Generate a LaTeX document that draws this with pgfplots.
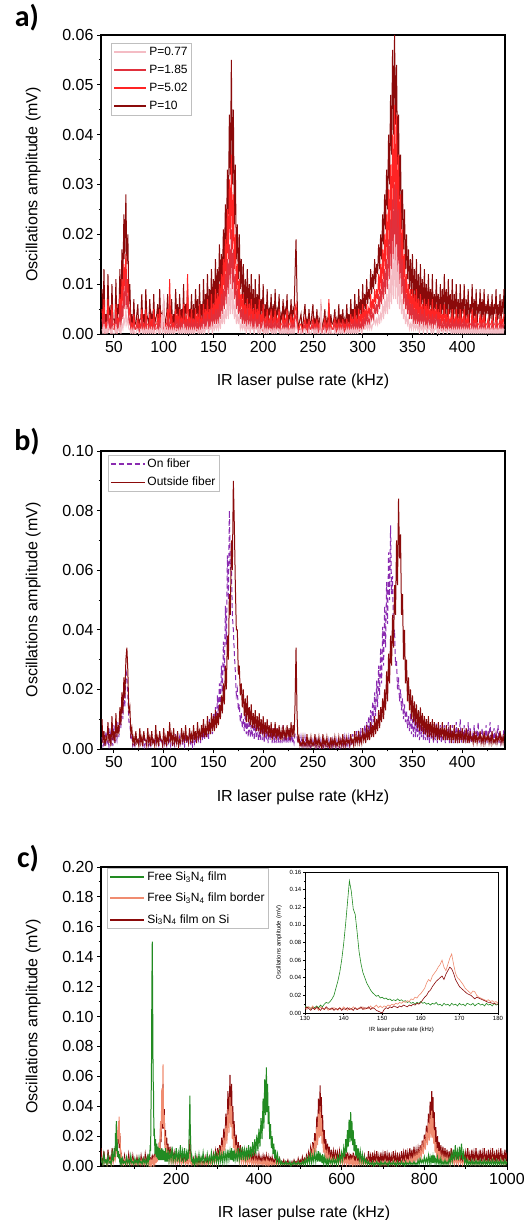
\documentclass[border=0pt]{standalone}
\usepackage{pgfplots}
\usepackage{pgfplotstable}
\pgfplotsset{compat=1.18}
\usepackage{fontspec}
\setmainfont{Liberation Sans}
\newfontfamily\calibri{Carlito}
\definecolor{pinkA}{HTML}{F4BCC4}
\definecolor{redB}{HTML}{E0303C}
\definecolor{redC}{HTML}{FF2424}
\definecolor{darkR}{HTML}{8B0A0A}
\definecolor{purp}{HTML}{8A2BB0}
\definecolor{grn}{HTML}{228B22}
\definecolor{salm}{HTML}{F08C70}

\pgfplotstableread{
x a b c d
38 0.001 0.003 0.005 0.009
39 0.000 0.001 0.002 0.003
40 0.002 0.004 0.007 0.013
41 0.000 0.000 0.001 0.001
42 0.001 0.001 0.002 0.004
43 0.000 0.001 0.001 0.002
44 0.002 0.004 0.007 0.012
45 0.001 0.001 0.002 0.004
46 0.001 0.002 0.003 0.005
47 0.000 0.000 0.001 0.001
48 0.001 0.004 0.006 0.010
49 0.000 0.001 0.002 0.003
50 0.000 0.001 0.002 0.003
51 0.000 0.001 0.001 0.002
52 0.002 0.004 0.006 0.011
53 0.000 0.000 0.001 0.001
54 0.001 0.002 0.003 0.006
55 0.001 0.001 0.002 0.004
56 0.002 0.005 0.008 0.013
57 0.000 0.001 0.001 0.002
58 0.002 0.006 0.011 0.017
59 0.001 0.003 0.006 0.010
60 0.003 0.009 0.014 0.024
61 0.002 0.005 0.009 0.015
62 0.005 0.012 0.016 0.028
63 0.002 0.005 0.008 0.014
64 0.003 0.008 0.011 0.020
65 0.001 0.002 0.004 0.006
66 0.001 0.003 0.005 0.010
67 0.000 0.001 0.001 0.002
68 0.001 0.001 0.002 0.004
69 0.000 0.000 0.001 0.001
70 0.001 0.002 0.004 0.007
71 0.000 0.001 0.001 0.002
72 0.000 0.001 0.001 0.002
73 0.001 0.001 0.002 0.004
74 0.001 0.002 0.003 0.006
75 0.000 0.000 0.001 0.001
76 0.000 0.001 0.002 0.003
77 0.001 0.001 0.001 0.003
78 0.001 0.003 0.005 0.008
79 0.000 0.001 0.001 0.002
80 0.001 0.001 0.002 0.004
81 0.000 0.000 0.001 0.001
82 0.001 0.003 0.005 0.009
83 0.000 0.001 0.002 0.004
84 0.001 0.001 0.002 0.003
85 0.000 0.001 0.001 0.002
86 0.001 0.002 0.004 0.007
87 0.000 0.001 0.001 0.003
88 0.001 0.001 0.003 0.004
89 0.000 0.000 0.001 0.001
90 0.001 0.003 0.005 0.008
91 0.000 0.001 0.001 0.002
92 0.000 0.001 0.002 0.003
93 0.001 0.001 0.002 0.004
94 0.001 0.002 0.004 0.006
95 0.000 0.000 0.001 0.001
96 0.001 0.003 0.005 0.009
97 0.000 0.001 0.002 0.003
98 0.004 0.002 0.002 0.004
99 0.000 0.001 0.001 0.002
100 0.008 0.002 0.004 0.007
101 0.000 0.000 0.001 0.001
102 0.001 0.001 0.002 0.003
103 0.000 0.001 0.002 0.004
104 0.001 0.003 0.005 0.008
105 0.000 0.001 0.001 0.002
106 0.001 0.002 0.011 0.005
107 0.000 0.001 0.002 0.003
108 0.001 0.002 0.004 0.007
109 0.000 0.000 0.001 0.001
110 0.001 0.001 0.002 0.004
111 0.000 0.001 0.001 0.002
112 0.001 0.003 0.005 0.009
113 0.001 0.001 0.002 0.004
114 0.001 0.002 0.004 0.006
115 0.000 0.000 0.001 0.001
116 0.001 0.003 0.005 0.008
117 0.000 0.001 0.002 0.003
118 0.001 0.002 0.003 0.005
119 0.000 0.001 0.001 0.002
120 0.002 0.003 0.006 0.010
121 0.000 0.000 0.001 0.001
122 0.001 0.002 0.003 0.006
123 0.000 0.001 0.002 0.004
124 0.001 0.003 0.012 0.009
125 0.000 0.001 0.001 0.002
126 0.001 0.002 0.003 0.005
127 0.000 0.001 0.002 0.003
128 0.001 0.003 0.005 0.008
129 0.000 0.000 0.001 0.001
130 0.001 0.002 0.003 0.006
131 0.000 0.001 0.001 0.002
132 0.001 0.003 0.005 0.009
133 0.001 0.001 0.002 0.004
134 0.001 0.002 0.004 0.007
135 0.000 0.000 0.001 0.001
136 0.001 0.003 0.006 0.010
137 0.000 0.001 0.002 0.003
138 0.001 0.002 0.003 0.006
139 0.000 0.001 0.001 0.002
140 0.002 0.004 0.006 0.011
141 0.000 0.001 0.002 0.003
142 0.001 0.003 0.005 0.008
143 0.001 0.001 0.002 0.004
144 0.002 0.004 0.007 0.012
145 0.000 0.001 0.002 0.003
146 0.001 0.003 0.005 0.009
147 0.001 0.001 0.002 0.004
148 0.002 0.005 0.008 0.013
149 0.000 0.001 0.002 0.003
150 0.002 0.004 0.006 0.011
151 0.001 0.002 0.003 0.005
152 0.002 0.005 0.009 0.015
153 0.001 0.002 0.003 0.006
154 0.002 0.005 0.008 0.013
155 0.001 0.002 0.004 0.007
156 0.003 0.006 0.010 0.018
157 0.001 0.003 0.005 0.009
158 0.004 0.008 0.012 0.016
159 0.002 0.004 0.007 0.011
160 0.005 0.009 0.015 0.021
161 0.002 0.005 0.009 0.014
162 0.005 0.012 0.019 0.026
163 0.003 0.006 0.011 0.018
164 0.008 0.015 0.025 0.033
165 0.003 0.008 0.015 0.024
166 0.010 0.018 0.031 0.044
167 0.004 0.010 0.019 0.032
168 0.012 0.021 0.036 0.055
169 0.004 0.009 0.017 0.030
170 0.009 0.017 0.028 0.045
171 0.003 0.007 0.013 0.022
172 0.006 0.012 0.020 0.034
173 0.002 0.005 0.009 0.015
174 0.004 0.009 0.014 0.022
175 0.002 0.004 0.006 0.011
176 0.004 0.007 0.011 0.020
177 0.001 0.003 0.005 0.009
178 0.002 0.005 0.008 0.015
179 0.001 0.002 0.004 0.007
180 0.002 0.005 0.008 0.014
181 0.001 0.002 0.003 0.005
182 0.002 0.004 0.006 0.011
183 0.000 0.001 0.002 0.004
184 0.002 0.005 0.007 0.013
185 0.001 0.002 0.003 0.005
186 0.002 0.003 0.006 0.010
187 0.000 0.001 0.002 0.003
188 0.002 0.004 0.007 0.012
189 0.001 0.001 0.002 0.004
190 0.001 0.003 0.005 0.009
191 0.000 0.001 0.001 0.002
192 0.002 0.004 0.006 0.011
193 0.001 0.001 0.002 0.004
194 0.001 0.003 0.005 0.008
195 0.000 0.001 0.002 0.003
196 0.002 0.004 0.007 0.012
197 0.000 0.001 0.001 0.002
198 0.001 0.002 0.004 0.007
199 0.001 0.001 0.002 0.004
200 0.002 0.003 0.006 0.010
201 0.000 0.000 0.001 0.001
202 0.001 0.002 0.003 0.006
203 0.000 0.001 0.002 0.003
204 0.001 0.003 0.005 0.009
205 0.000 0.001 0.001 0.002
206 0.001 0.002 0.003 0.005
207 0.001 0.001 0.002 0.004
208 0.001 0.003 0.005 0.008
209 0.000 0.000 0.001 0.001
210 0.001 0.002 0.003 0.006
211 0.000 0.001 0.002 0.003
212 0.001 0.003 0.005 0.009
213 0.000 0.001 0.001 0.002
214 0.001 0.002 0.003 0.005
215 0.001 0.001 0.002 0.004
216 0.001 0.003 0.005 0.008
217 0.000 0.000 0.001 0.001
218 0.001 0.001 0.002 0.004
219 0.000 0.001 0.002 0.003
220 0.001 0.002 0.004 0.007
221 0.000 0.001 0.001 0.002
222 0.001 0.002 0.003 0.005
223 0.000 0.001 0.002 0.004
224 0.001 0.003 0.005 0.008
225 0.000 0.000 0.001 0.001
226 0.001 0.001 0.002 0.004
227 0.000 0.001 0.002 0.003
228 0.001 0.002 0.004 0.007
229 0.000 0.001 0.001 0.002
230 0.001 0.002 0.003 0.005
231 0.000 0.001 0.002 0.004
232 0.001 0.003 0.005 0.012
233 0.002 0.004 0.006 0.019
234 0.001 0.002 0.003 0.008
235 0.000 0.000 0.001 0.001
236 0.000 0.001 0.001 0.002
237 0.000 0.001 0.002 0.003
238 0.001 0.001 0.002 0.004
239 0.000 0.000 0.001 0.001
240 0.000 0.001 0.001 0.002
241 0.001 0.001 0.002 0.004
242 0.001 0.002 0.003 0.006
243 0.000 0.001 0.001 0.002
244 0.000 0.001 0.002 0.003
245 0.000 0.000 0.001 0.001
246 0.001 0.002 0.003 0.005
247 0.000 0.001 0.001 0.002
248 0.000 0.001 0.001 0.002
249 0.001 0.001 0.002 0.004
250 0.001 0.002 0.003 0.006
251 0.000 0.000 0.001 0.001
252 0.001 0.001 0.002 0.003
253 0.000 0.001 0.001 0.002
254 0.001 0.002 0.003 0.005
255 0.000 0.000 0.001 0.001
256 0.000 0.001 0.002 0.003
257 0.000 0.001 0.001 0.002
258 0.007 0.002 0.003 0.006
259 0.000 0.000 0.001 0.001
260 0.000 0.001 0.001 0.002
261 0.000 0.001 0.002 0.003
262 0.001 0.002 0.003 0.005
263 0.000 0.000 0.001 0.001
264 0.000 0.001 0.002 0.003
265 0.000 0.001 0.001 0.002
266 0.001 0.002 0.007 0.006
267 0.000 0.000 0.001 0.001
268 0.001 0.001 0.002 0.004
269 0.000 0.001 0.001 0.002
270 0.000 0.001 0.001 0.002
271 0.000 0.001 0.002 0.003
272 0.001 0.002 0.003 0.005
273 0.000 0.000 0.001 0.001
274 0.000 0.001 0.002 0.003
275 0.000 0.001 0.001 0.002
276 0.001 0.002 0.003 0.006
277 0.000 0.000 0.001 0.001
278 0.001 0.001 0.002 0.004
279 0.000 0.001 0.001 0.002
280 0.001 0.002 0.003 0.005
281 0.000 0.000 0.001 0.001
282 0.000 0.001 0.002 0.003
283 0.000 0.001 0.001 0.002
284 0.001 0.002 0.003 0.006
285 0.000 0.001 0.001 0.002
286 0.001 0.001 0.002 0.004
287 0.000 0.000 0.001 0.001
288 0.001 0.002 0.004 0.007
289 0.000 0.001 0.002 0.003
290 0.001 0.002 0.003 0.005
291 0.000 0.001 0.001 0.002
292 0.001 0.003 0.005 0.008
293 0.000 0.001 0.002 0.003
294 0.001 0.002 0.003 0.006
295 0.000 0.001 0.001 0.002
296 0.001 0.003 0.005 0.009
297 0.001 0.001 0.002 0.004
298 0.001 0.002 0.004 0.007
299 0.000 0.001 0.002 0.003
300 0.001 0.003 0.006 0.010
301 0.001 0.001 0.002 0.004
302 0.001 0.003 0.005 0.008
303 0.001 0.002 0.003 0.005
304 0.002 0.004 0.006 0.011
305 0.001 0.002 0.003 0.006
306 0.002 0.003 0.005 0.009
307 0.001 0.002 0.004 0.007
308 0.002 0.005 0.008 0.013
309 0.001 0.003 0.004 0.008
310 0.002 0.004 0.007 0.012
311 0.002 0.003 0.005 0.009
312 0.003 0.006 0.009 0.015
313 0.002 0.004 0.006 0.010
314 0.003 0.006 0.009 0.014
315 0.002 0.004 0.007 0.012
316 0.004 0.008 0.012 0.018
317 0.002 0.005 0.008 0.013
318 0.004 0.009 0.014 0.020
319 0.003 0.006 0.009 0.015
320 0.006 0.011 0.017 0.024
321 0.003 0.007 0.011 0.018
322 0.007 0.013 0.020 0.028
323 0.004 0.008 0.013 0.021
324 0.008 0.015 0.024 0.033
325 0.004 0.009 0.015 0.025
326 0.010 0.019 0.029 0.040
327 0.005 0.011 0.018 0.030
328 0.013 0.023 0.034 0.048
329 0.006 0.013 0.021 0.036
330 0.016 0.027 0.040 0.057
331 0.007 0.015 0.025 0.040
332 0.020 0.030 0.046 0.060
333 0.007 0.014 0.024 0.042
334 0.018 0.029 0.044 0.054
335 0.006 0.012 0.020 0.034
336 0.014 0.025 0.036 0.044
337 0.005 0.010 0.016 0.027
338 0.011 0.020 0.028 0.036
339 0.004 0.008 0.012 0.021
340 0.007 0.015 0.021 0.029
341 0.003 0.006 0.010 0.017
342 0.005 0.011 0.016 0.025
343 0.002 0.005 0.007 0.013
344 0.004 0.008 0.012 0.020
345 0.002 0.004 0.006 0.011
346 0.003 0.007 0.010 0.017
347 0.001 0.003 0.005 0.009
348 0.002 0.006 0.009 0.015
349 0.001 0.003 0.004 0.008
350 0.003 0.006 0.009 0.016
351 0.001 0.002 0.004 0.007
352 0.002 0.005 0.008 0.013
353 0.001 0.002 0.003 0.006
354 0.002 0.005 0.009 0.015
355 0.001 0.002 0.003 0.005
356 0.002 0.004 0.007 0.012
357 0.000 0.001 0.002 0.004
358 0.002 0.005 0.008 0.014
359 0.001 0.002 0.003 0.006
360 0.002 0.004 0.006 0.011
361 0.000 0.001 0.002 0.004
362 0.002 0.005 0.007 0.013
363 0.001 0.002 0.003 0.005
364 0.001 0.003 0.006 0.010
365 0.000 0.001 0.002 0.003
366 0.002 0.004 0.007 0.012
367 0.001 0.002 0.003 0.005
368 0.001 0.003 0.005 0.009
369 0.000 0.001 0.002 0.004
370 0.002 0.004 0.007 0.012
371 0.000 0.001 0.002 0.003
372 0.001 0.003 0.005 0.008
373 0.001 0.002 0.003 0.005
374 0.002 0.004 0.006 0.011
375 0.000 0.001 0.002 0.004
376 0.001 0.003 0.005 0.008
377 0.000 0.001 0.001 0.002
378 0.001 0.003 0.006 0.010
379 0.001 0.001 0.002 0.004
380 0.001 0.002 0.004 0.009
381 0.000 0.001 0.002 0.003
382 0.001 0.003 0.006 0.012
383 0.001 0.001 0.002 0.004
384 0.001 0.002 0.004 0.009
385 0.000 0.001 0.001 0.002
386 0.001 0.003 0.005 0.011
387 0.001 0.001 0.002 0.004
388 0.001 0.002 0.003 0.008
389 0.000 0.001 0.002 0.003
390 0.001 0.003 0.005 0.011
391 0.000 0.001 0.001 0.002
392 0.001 0.002 0.003 0.008
393 0.000 0.001 0.002 0.004
394 0.001 0.003 0.005 0.010
395 0.000 0.001 0.002 0.003
396 0.001 0.002 0.003 0.007
397 0.000 0.001 0.001 0.002
398 0.001 0.003 0.005 0.010
399 0.000 0.001 0.002 0.003
400 0.001 0.002 0.003 0.007
401 0.000 0.001 0.002 0.004
402 0.001 0.003 0.005 0.010
403 0.000 0.001 0.001 0.002
404 0.001 0.002 0.003 0.007
405 0.000 0.001 0.002 0.003
406 0.001 0.002 0.004 0.009
407 0.000 0.001 0.001 0.002
408 0.001 0.001 0.002 0.006
409 0.000 0.001 0.002 0.004
410 0.001 0.003 0.005 0.010
411 0.000 0.001 0.001 0.002
412 0.001 0.002 0.003 0.007
413 0.000 0.001 0.002 0.003
414 0.001 0.002 0.004 0.009
415 0.000 0.001 0.001 0.002
416 0.001 0.001 0.002 0.006
417 0.000 0.001 0.002 0.004
418 0.001 0.002 0.004 0.009
419 0.000 0.001 0.001 0.002
420 0.001 0.002 0.003 0.007
421 0.000 0.001 0.002 0.003
422 0.001 0.002 0.004 0.009
423 0.000 0.001 0.001 0.002
424 0.001 0.001 0.002 0.006
425 0.000 0.001 0.002 0.004
426 0.001 0.002 0.003 0.008
427 0.000 0.001 0.001 0.002
428 0.001 0.001 0.002 0.006
429 0.000 0.001 0.002 0.003
430 0.001 0.002 0.003 0.008
431 0.000 0.001 0.001 0.002
432 0.001 0.001 0.002 0.006
433 0.000 0.001 0.002 0.004
434 0.001 0.002 0.004 0.009
435 0.000 0.001 0.001 0.002
436 0.001 0.001 0.002 0.006
437 0.000 0.001 0.002 0.003
438 0.001 0.002 0.003 0.008
439 0.000 0.001 0.001 0.002
440 0.001 0.002 0.003 0.007
441 0.000 0.001 0.002 0.004
442 0.001 0.002 0.004 0.009
}\tabA

\pgfplotstableread{
x on out
38 0.004 0.010
39 0.001 0.002
40 0.002 0.006
41 0.001 0.001
42 0.006 0.004
43 0.002 0.003
44 0.003 0.009
45 0.001 0.002
46 0.007 0.005
47 0.002 0.001
48 0.004 0.011
49 0.001 0.003
50 0.008 0.006
51 0.002 0.002
52 0.005 0.012
53 0.003 0.004
54 0.009 0.008
55 0.004 0.005
56 0.012 0.014
57 0.007 0.008
58 0.017 0.019
59 0.010 0.012
60 0.022 0.024
61 0.014 0.017
62 0.027 0.030
63 0.024 0.034
64 0.018 0.026
65 0.009 0.012
66 0.009 0.014
67 0.003 0.005
68 0.004 0.007
69 0.001 0.002
70 0.002 0.004
71 0.001 0.001
72 0.005 0.006
73 0.002 0.002
74 0.003 0.003
75 0.001 0.001
76 0.004 0.007
77 0.002 0.002
78 0.002 0.004
79 0.001 0.001
80 0.005 0.006
81 0.001 0.003
82 0.003 0.003
83 0.002 0.001
84 0.004 0.007
85 0.001 0.002
86 0.002 0.004
87 0.001 0.001
88 0.005 0.006
89 0.002 0.002
90 0.003 0.003
91 0.001 0.001
92 0.004 0.008
93 0.002 0.002
94 0.002 0.004
95 0.001 0.001
96 0.005 0.006
97 0.002 0.003
98 0.003 0.003
99 0.001 0.001
100 0.004 0.007
101 0.002 0.002
102 0.002 0.004
103 0.001 0.001
104 0.005 0.006
105 0.002 0.002
106 0.003 0.009
107 0.001 0.003
108 0.004 0.005
109 0.002 0.001
110 0.002 0.007
111 0.001 0.002
112 0.005 0.004
113 0.002 0.002
114 0.003 0.006
115 0.001 0.001
116 0.004 0.003
117 0.002 0.002
118 0.006 0.007
119 0.002 0.003
120 0.003 0.005
121 0.001 0.002
122 0.005 0.008
123 0.002 0.003
124 0.004 0.004
125 0.002 0.002
126 0.006 0.007
127 0.002 0.003
128 0.003 0.005
129 0.001 0.002
130 0.005 0.008
131 0.002 0.003
132 0.004 0.006
133 0.002 0.002
134 0.006 0.009
135 0.003 0.004
136 0.005 0.006
137 0.002 0.003
138 0.007 0.008
139 0.003 0.004
140 0.006 0.010
141 0.003 0.004
142 0.008 0.007
143 0.004 0.004
144 0.007 0.011
145 0.003 0.005
146 0.010 0.009
147 0.005 0.005
148 0.009 0.012
149 0.005 0.006
150 0.012 0.011
151 0.007 0.006
152 0.014 0.013
153 0.009 0.007
154 0.018 0.012
155 0.011 0.008
156 0.022 0.015
157 0.014 0.010
158 0.028 0.018
159 0.019 0.012
160 0.036 0.022
161 0.026 0.015
162 0.048 0.028
163 0.035 0.020
164 0.065 0.038
165 0.050 0.030
166 0.080 0.052
167 0.060 0.045
168 0.062 0.070
169 0.045 0.060
170 0.040 0.090
171 0.032 0.075
172 0.026 0.055
173 0.018 0.040
174 0.020 0.040
175 0.013 0.025
176 0.015 0.028
177 0.009 0.018
178 0.012 0.022
179 0.007 0.014
180 0.010 0.020
181 0.006 0.011
182 0.012 0.017
183 0.005 0.009
184 0.009 0.018
185 0.004 0.009
186 0.011 0.014
187 0.004 0.008
188 0.008 0.015
189 0.004 0.007
190 0.010 0.012
191 0.003 0.007
192 0.008 0.013
193 0.004 0.006
194 0.010 0.011
195 0.003 0.006
196 0.007 0.012
197 0.003 0.005
198 0.009 0.010
199 0.003 0.005
200 0.007 0.011
201 0.002 0.004
202 0.008 0.009
203 0.003 0.005
204 0.006 0.010
205 0.002 0.004
206 0.008 0.008
207 0.003 0.004
208 0.006 0.009
209 0.002 0.003
210 0.007 0.007
211 0.002 0.004
212 0.005 0.009
213 0.002 0.003
214 0.007 0.007
215 0.002 0.004
216 0.005 0.008
217 0.002 0.003
218 0.006 0.006
219 0.002 0.003
220 0.008 0.008
221 0.002 0.004
222 0.005 0.006
223 0.002 0.003
224 0.007 0.008
225 0.002 0.004
226 0.005 0.007
227 0.002 0.003
228 0.006 0.009
229 0.002 0.004
230 0.004 0.008
231 0.002 0.004
232 0.005 0.015
233 0.005 0.034
234 0.004 0.012
235 0.002 0.002
236 0.003 0.004
237 0.001 0.001
238 0.004 0.002
239 0.001 0.001
240 0.002 0.004
241 0.001 0.001
242 0.004 0.002
243 0.001 0.001
244 0.002 0.005
245 0.001 0.001
246 0.003 0.003
247 0.000 0.001
248 0.001 0.004
249 0.001 0.001
250 0.003 0.002
251 0.001 0.001
252 0.002 0.005
253 0.000 0.001
254 0.003 0.003
255 0.001 0.001
256 0.001 0.004
257 0.000 0.001
258 0.003 0.002
259 0.001 0.000
260 0.002 0.005
261 0.000 0.001
262 0.003 0.003
263 0.001 0.001
264 0.001 0.004
265 0.000 0.001
266 0.003 0.002
267 0.001 0.000
268 0.002 0.004
269 0.000 0.001
270 0.003 0.003
271 0.001 0.001
272 0.002 0.004
273 0.000 0.001
274 0.003 0.002
275 0.001 0.001
276 0.001 0.004
277 0.000 0.001
278 0.003 0.003
279 0.001 0.001
280 0.002 0.005
281 0.001 0.001
282 0.004 0.003
283 0.001 0.001
284 0.002 0.004
285 0.001 0.002
286 0.004 0.003
287 0.001 0.001
288 0.003 0.005
289 0.001 0.002
290 0.005 0.003
291 0.002 0.001
292 0.004 0.006
293 0.002 0.002
294 0.006 0.004
295 0.002 0.002
296 0.005 0.006
297 0.002 0.002
298 0.007 0.004
299 0.003 0.002
300 0.006 0.007
301 0.003 0.003
302 0.008 0.005
303 0.004 0.002
304 0.009 0.008
305 0.005 0.003
306 0.011 0.006
307 0.006 0.003
308 0.013 0.009
309 0.007 0.004
310 0.016 0.008
311 0.009 0.004
312 0.019 0.011
313 0.011 0.005
314 0.023 0.010
315 0.014 0.006
316 0.028 0.013
317 0.018 0.007
318 0.034 0.014
319 0.022 0.009
320 0.041 0.017
321 0.028 0.010
322 0.048 0.020
323 0.034 0.013
324 0.056 0.026
325 0.042 0.016
326 0.066 0.032
327 0.050 0.022
328 0.075 0.038
329 0.052 0.028
330 0.058 0.045
331 0.038 0.034
332 0.040 0.055
333 0.028 0.045
334 0.030 0.070
335 0.020 0.055
336 0.024 0.084
337 0.016 0.064
338 0.020 0.072
339 0.013 0.045
340 0.017 0.052
341 0.010 0.030
342 0.015 0.040
343 0.009 0.022
344 0.013 0.030
345 0.007 0.016
346 0.011 0.024
347 0.006 0.013
348 0.012 0.020
349 0.005 0.010
350 0.010 0.018
351 0.004 0.009
352 0.011 0.016
353 0.004 0.008
354 0.009 0.015
355 0.004 0.007
356 0.010 0.013
357 0.003 0.006
358 0.008 0.014
359 0.004 0.006
360 0.009 0.012
361 0.003 0.005
362 0.008 0.011
363 0.003 0.005
364 0.010 0.010
365 0.003 0.004
366 0.007 0.011
367 0.002 0.004
368 0.009 0.009
369 0.003 0.004
370 0.008 0.010
371 0.002 0.003
372 0.006 0.009
373 0.003 0.004
374 0.009 0.008
375 0.002 0.003
376 0.007 0.009
377 0.003 0.003
378 0.008 0.007
379 0.002 0.004
380 0.006 0.009
381 0.003 0.003
382 0.008 0.007
383 0.002 0.003
384 0.006 0.008
385 0.003 0.003
386 0.009 0.006
387 0.002 0.003
388 0.007 0.008
389 0.003 0.002
390 0.008 0.006
391 0.002 0.003
392 0.006 0.008
393 0.003 0.002
394 0.009 0.005
395 0.002 0.003
396 0.007 0.007
397 0.003 0.002
398 0.010 0.006
399 0.002 0.003
400 0.006 0.007
401 0.003 0.002
402 0.008 0.005
403 0.002 0.003
404 0.006 0.007
405 0.003 0.002
406 0.009 0.005
407 0.002 0.002
408 0.007 0.006
409 0.002 0.003
410 0.005 0.004
411 0.003 0.002
412 0.008 0.006
413 0.002 0.002
414 0.006 0.005
415 0.003 0.002
416 0.009 0.004
417 0.002 0.003
418 0.005 0.006
419 0.003 0.002
420 0.007 0.004
421 0.002 0.002
422 0.005 0.006
423 0.003 0.002
424 0.008 0.004
425 0.002 0.003
426 0.006 0.005
427 0.003 0.002
428 0.009 0.004
429 0.002 0.002
430 0.005 0.006
431 0.003 0.002
432 0.007 0.003
433 0.002 0.002
434 0.005 0.005
435 0.003 0.002
436 0.008 0.004
437 0.002 0.003
438 0.006 0.006
439 0.002 0.002
440 0.004 0.004
441 0.003 0.002
442 0.007 0.005
}\tabB

\pgfplotstableread{
x g s r
18 0.006 0.006 0.012
20 0.003 0.003 0.005
22.5 0.001 0.001 0.002
25 0.008 0.005 0.010
27.5 0.002 0.002 0.003
30 0.004 0.003 0.004
32.5 0.001 0.001 0.001
35 0.007 0.006 0.011
37.5 0.002 0.002 0.003
40 0.003 0.004 0.006
42.5 0.001 0.001 0.002
45 0.009 0.007 0.012
47.5 0.003 0.002 0.004
50 0.012 0.006 0.008
52 0.006 0.004 0.006
53 0.022 0.010 0.013
54 0.012 0.006 0.008
55 0.030 0.016 0.016
56 0.010 0.010 0.010
57 0.018 0.024 0.020
58.5 0.006 0.014 0.012
60 0.010 0.030 0.026
61 0.005 0.018 0.015
62 0.008 0.033 0.028
63 0.004 0.015 0.012
64 0.006 0.022 0.020
65.5 0.002 0.005 0.005
67 0.004 0.008 0.009
68.5 0.001 0.002 0.002
70 0.005 0.003 0.004
72.5 0.002 0.001 0.002
75 0.003 0.004 0.007
77.5 0.001 0.001 0.001
80 0.006 0.002 0.003
82.5 0.002 0.001 0.002
85 0.004 0.004 0.008
87.5 0.001 0.001 0.002
90 0.007 0.002 0.004
92.5 0.002 0.001 0.001
95 0.003 0.004 0.007
97.5 0.001 0.001 0.002
100 0.005 0.002 0.003
102.5 0.002 0.001 0.001
105 0.004 0.003 0.006
107.5 0.001 0.001 0.002
110 0.006 0.002 0.004
112.5 0.002 0.001 0.001
115 0.003 0.004 0.007
117.5 0.001 0.001 0.002
120 0.005 0.003 0.005
122.5 0.002 0.001 0.001
125 0.004 0.004 0.008
127.5 0.001 0.001 0.002
130 0.006 0.003 0.006
132 0.002 0.001 0.002
134 0.008 0.004 0.007
135.5 0.004 0.001 0.002
137 0.014 0.003 0.006
138 0.010 0.001 0.002
139 0.040 0.003 0.005
140 0.060 0.001 0.002
141 0.120 0.003 0.006
142 0.150 0.004 0.007
143 0.110 0.003 0.006
144 0.060 0.001 0.002
145 0.050 0.004 0.007
146 0.020 0.002 0.003
147 0.025 0.005 0.008
148.5 0.008 0.002 0.004
150 0.018 0.006 0.009
151.5 0.006 0.002 0.004
153 0.015 0.007 0.010
154.5 0.005 0.003 0.005
156 0.013 0.010 0.012
157.5 0.004 0.005 0.006
159 0.012 0.016 0.016
160.5 0.004 0.009 0.009
162 0.011 0.030 0.026
163.5 0.004 0.018 0.016
165 0.012 0.052 0.040
166.5 0.004 0.028 0.025
168 0.011 0.068 0.055
169.5 0.004 0.026 0.025
171 0.010 0.034 0.038
172.5 0.003 0.012 0.014
174 0.012 0.020 0.024
175.5 0.003 0.008 0.010
177 0.009 0.014 0.019
178.5 0.003 0.005 0.007
180 0.011 0.010 0.015
182.5 0.003 0.003 0.005
185 0.009 0.008 0.013
187.5 0.004 0.002 0.004
190 0.013 0.006 0.011
192.5 0.003 0.002 0.004
195 0.008 0.005 0.009
197.5 0.004 0.002 0.003
200 0.012 0.006 0.010
202.5 0.003 0.002 0.003
205 0.009 0.004 0.007
207.5 0.004 0.002 0.003
210 0.014 0.005 0.009
212.5 0.003 0.001 0.002
215 0.010 0.003 0.006
217.5 0.004 0.002 0.003
220 0.012 0.004 0.008
222.5 0.003 0.001 0.002
225 0.009 0.003 0.006
227 0.004 0.002 0.003
229 0.011 0.004 0.007
230 0.005 0.002 0.003
231 0.020 0.005 0.010
232 0.030 0.004 0.008
233 0.047 0.010 0.018
234 0.025 0.003 0.006
235 0.015 0.004 0.008
236.5 0.003 0.001 0.002
238 0.006 0.002 0.004
240 0.002 0.001 0.002
242 0.004 0.003 0.005
244 0.001 0.001 0.001
246 0.007 0.002 0.003
248 0.002 0.001 0.002
250 0.005 0.003 0.006
252.5 0.002 0.001 0.001
255 0.008 0.002 0.004
257.5 0.002 0.001 0.002
260 0.006 0.003 0.005
262.5 0.003 0.001 0.001
265 0.009 0.002 0.003
267.5 0.002 0.001 0.002
270 0.005 0.003 0.006
272.5 0.003 0.001 0.001
275 0.008 0.002 0.004
277.5 0.002 0.001 0.002
280 0.006 0.003 0.006
282.5 0.003 0.001 0.002
285 0.009 0.003 0.005
287.5 0.002 0.001 0.002
290 0.007 0.005 0.008
292.5 0.003 0.002 0.003
295 0.010 0.006 0.010
297.5 0.003 0.002 0.004
300 0.007 0.008 0.012
302.5 0.002 0.003 0.005
305 0.009 0.010 0.014
307.5 0.003 0.005 0.007
310 0.008 0.014 0.019
312.5 0.002 0.007 0.010
315 0.010 0.019 0.025
317.5 0.003 0.010 0.014
320 0.009 0.027 0.035
322.5 0.003 0.015 0.020
325 0.011 0.038 0.050
327.5 0.004 0.022 0.030
330 0.010 0.046 0.061
332 0.004 0.026 0.036
334 0.012 0.040 0.055
335.5 0.004 0.018 0.026
337 0.010 0.028 0.040
338.5 0.003 0.012 0.018
340 0.011 0.020 0.030
342.5 0.004 0.008 0.012
345 0.009 0.014 0.021
347.5 0.003 0.005 0.008
350 0.012 0.010 0.016
352.5 0.004 0.003 0.006
355 0.010 0.008 0.014
357.5 0.004 0.002 0.005
360 0.013 0.007 0.012
362.5 0.004 0.002 0.004
365 0.011 0.006 0.011
367.5 0.005 0.002 0.004
370 0.012 0.005 0.010
372.5 0.004 0.001 0.003
375 0.014 0.005 0.009
377.5 0.005 0.002 0.004
380 0.013 0.005 0.010
382.5 0.006 0.001 0.003
385 0.016 0.004 0.008
387.5 0.007 0.001 0.003
390 0.018 0.005 0.009
392.5 0.008 0.001 0.003
395 0.021 0.004 0.007
397.5 0.010 0.001 0.002
400 0.025 0.004 0.008
402.5 0.013 0.001 0.003
405 0.032 0.003 0.006
407.5 0.018 0.001 0.002
410 0.045 0.004 0.007
412 0.025 0.001 0.003
414 0.058 0.003 0.006
416 0.034 0.001 0.002
418 0.066 0.004 0.007
419.5 0.036 0.001 0.003
421 0.055 0.003 0.005
422.5 0.028 0.001 0.002
424 0.040 0.003 0.006
426 0.018 0.001 0.002
428 0.028 0.003 0.005
430 0.012 0.001 0.002
432 0.020 0.003 0.006
434 0.008 0.001 0.002
436 0.015 0.002 0.004
438 0.005 0.001 0.002
440 0.011 0.003 0.005
442.5 0.003 0.001 0.001
445 0.008 0.002 0.004
447.5 0.002 0.001 0.002
450 0.005 0.003 0.005
452.5 0.001 0.001 0.001
455 0.003 0.002 0.003
457.5 0.001 0.001 0.002
460 0.002 0.002 0.004
462.5 0.001 0.001 0.001
465 0.003 0.002 0.003
467.5 0.001 0.001 0.002
470 0.002 0.002 0.004
472.5 0.001 0.001 0.001
475 0.003 0.001 0.002
477.5 0.000 0.001 0.001
480 0.002 0.002 0.003
482.5 0.001 0.001 0.001
485 0.003 0.002 0.004
487.5 0.001 0.001 0.002
490 0.002 0.002 0.003
492.5 0.001 0.001 0.001
495 0.003 0.003 0.005
497.5 0.001 0.001 0.002
500 0.002 0.002 0.004
502.5 0.001 0.001 0.002
505 0.003 0.003 0.006
507.5 0.001 0.001 0.002
510 0.004 0.003 0.005
512.5 0.001 0.002 0.003
515 0.005 0.005 0.007
517.5 0.002 0.002 0.003
520 0.006 0.006 0.009
522.5 0.002 0.003 0.004
525 0.008 0.009 0.012
527.5 0.002 0.004 0.006
530 0.007 0.012 0.016
532.5 0.003 0.006 0.008
535 0.009 0.017 0.022
537.5 0.003 0.009 0.012
540 0.008 0.026 0.033
542 0.003 0.014 0.018
544 0.010 0.035 0.045
546 0.003 0.019 0.026
548 0.009 0.040 0.054
549.5 0.003 0.020 0.028
551 0.007 0.032 0.046
552.5 0.002 0.015 0.022
554 0.008 0.023 0.034
556 0.002 0.009 0.014
558 0.006 0.015 0.024
560 0.002 0.005 0.009
562 0.005 0.011 0.018
564 0.001 0.004 0.007
566 0.004 0.009 0.015
568 0.001 0.003 0.006
570 0.005 0.007 0.013
572.5 0.002 0.002 0.004
575 0.004 0.006 0.011
577.5 0.001 0.002 0.004
580 0.005 0.005 0.010
582.5 0.002 0.002 0.003
585 0.004 0.006 0.011
587.5 0.001 0.002 0.004
590 0.006 0.005 0.009
592.5 0.002 0.001 0.003
595 0.007 0.005 0.010
597.5 0.003 0.002 0.004
600 0.009 0.004 0.008
602.5 0.004 0.001 0.003
605 0.012 0.005 0.010
607.5 0.006 0.002 0.003
610 0.018 0.004 0.008
612 0.009 0.001 0.003
614 0.024 0.005 0.009
616 0.013 0.002 0.003
618 0.031 0.004 0.007
620 0.016 0.001 0.003
622 0.036 0.004 0.008
623.5 0.017 0.002 0.003
625 0.030 0.004 0.007
626.5 0.014 0.001 0.002
628 0.024 0.005 0.009
630 0.010 0.001 0.003
632 0.018 0.003 0.006
634 0.007 0.001 0.002
636 0.014 0.004 0.008
638 0.005 0.001 0.003
640 0.012 0.003 0.006
642.5 0.004 0.001 0.002
645 0.010 0.004 0.007
647.5 0.003 0.001 0.002
650 0.008 0.003 0.005
652.5 0.002 0.001 0.002
655 0.006 0.004 0.007
657.5 0.002 0.001 0.002
660 0.004 0.003 0.005
662.5 0.001 0.001 0.002
665 0.003 0.004 0.010
667.5 0.001 0.001 0.002
670 0.002 0.002 0.007
672.5 0.001 0.001 0.001
675 0.003 0.003 0.009
677.5 0.000 0.001 0.002
680 0.002 0.003 0.008
682.5 0.001 0.001 0.002
685 0.003 0.004 0.010
687.5 0.001 0.001 0.002
690 0.002 0.002 0.007
692.5 0.000 0.001 0.001
695 0.003 0.003 0.009
697.5 0.001 0.001 0.002
700 0.002 0.003 0.008
702.5 0.001 0.001 0.002
705 0.003 0.004 0.010
707.5 0.001 0.001 0.002
710 0.002 0.003 0.008
712.5 0.000 0.001 0.001
715 0.003 0.003 0.009
717.5 0.001 0.001 0.002
720 0.002 0.002 0.007
722.5 0.001 0.001 0.002
725 0.003 0.004 0.010
727.5 0.001 0.001 0.002
730 0.002 0.003 0.008
732.5 0.000 0.001 0.001
735 0.003 0.003 0.009
737.5 0.001 0.001 0.002
740 0.002 0.002 0.007
742.5 0.001 0.001 0.002
745 0.003 0.004 0.010
747.5 0.001 0.002 0.003
750 0.002 0.003 0.009
752.5 0.000 0.001 0.002
755 0.003 0.005 0.011
757.5 0.001 0.002 0.003
760 0.002 0.004 0.009
762.5 0.001 0.002 0.003
765 0.003 0.006 0.012
767.5 0.001 0.002 0.004
770 0.002 0.005 0.011
772.5 0.001 0.002 0.004
775 0.003 0.007 0.013
777.5 0.001 0.003 0.005
780 0.002 0.008 0.011
782.5 0.001 0.004 0.005
785 0.004 0.009 0.012
787.5 0.001 0.005 0.006
790 0.005 0.011 0.014
792.5 0.002 0.006 0.007
795 0.004 0.014 0.017
797.5 0.002 0.008 0.009
800 0.006 0.018 0.021
802.5 0.002 0.011 0.012
805 0.005 0.023 0.027
807.5 0.002 0.014 0.016
810 0.007 0.029 0.035
812 0.002 0.017 0.022
814 0.006 0.034 0.043
816 0.002 0.019 0.027
818 0.007 0.037 0.050
819.5 0.002 0.019 0.028
821 0.006 0.032 0.046
822.5 0.002 0.015 0.024
824 0.007 0.024 0.036
826 0.002 0.009 0.015
828 0.005 0.016 0.026
830 0.002 0.006 0.010
832 0.006 0.012 0.020
834 0.002 0.004 0.007
836 0.004 0.010 0.016
838 0.001 0.003 0.006
840 0.005 0.008 0.014
842.5 0.001 0.003 0.005
845 0.003 0.007 0.013
847.5 0.001 0.002 0.004
850 0.004 0.006 0.012
852.5 0.001 0.002 0.004
855 0.003 0.006 0.011
857.5 0.001 0.002 0.003
860 0.005 0.005 0.010
862.5 0.002 0.001 0.003
865 0.008 0.005 0.012
867.5 0.003 0.002 0.003
870 0.011 0.004 0.010
872.5 0.004 0.001 0.003
875 0.014 0.005 0.011
877.5 0.004 0.002 0.003
880 0.010 0.004 0.009
882.5 0.004 0.001 0.002
885 0.013 0.005 0.011
887.5 0.005 0.002 0.003
890 0.015 0.003 0.008
892.5 0.004 0.001 0.002
895 0.009 0.004 0.010
897.5 0.002 0.002 0.003
900 0.005 0.003 0.009
902.5 0.001 0.001 0.002
905 0.004 0.005 0.012
907.5 0.001 0.002 0.003
910 0.003 0.003 0.008
912.5 0.001 0.001 0.002
915 0.004 0.004 0.011
917.5 0.001 0.002 0.003
920 0.003 0.003 0.009
922.5 0.001 0.001 0.002
925 0.004 0.005 0.012
927.5 0.001 0.002 0.003
930 0.003 0.003 0.008
932.5 0.001 0.001 0.002
935 0.004 0.004 0.011
937.5 0.001 0.002 0.003
940 0.003 0.003 0.009
942.5 0.001 0.001 0.002
945 0.004 0.005 0.012
947.5 0.001 0.002 0.003
950 0.003 0.003 0.008
952.5 0.001 0.001 0.002
955 0.004 0.004 0.011
957.5 0.001 0.002 0.003
960 0.003 0.003 0.009
962.5 0.001 0.001 0.002
965 0.004 0.005 0.012
967.5 0.001 0.002 0.003
970 0.003 0.003 0.008
972.5 0.001 0.001 0.002
975 0.004 0.004 0.011
977.5 0.001 0.002 0.003
980 0.003 0.003 0.009
982.5 0.001 0.001 0.002
985 0.004 0.005 0.012
987.5 0.001 0.002 0.003
990 0.003 0.003 0.008
992.5 0.001 0.001 0.002
995 0.004 0.004 0.011
997.5 0.001 0.002 0.003
1000 0.003 0.003 0.009
}\tabC

\pgfplotstableread{
x g s r
130 0.008 0.006 0.004
130.5 0.006 0.004 0.007
131 0.007 0.007 0.005
131.5 0.005 0.005 0.003
132 0.007 0.008 0.006
132.5 0.006 0.004 0.004
133 0.008 0.006 0.007
133.5 0.006 0.003 0.005
134 0.009 0.007 0.003
134.5 0.007 0.005 0.006
135 0.010 0.004 0.004
135.5 0.012 0.006 0.007
136 0.011 0.003 0.005
136.5 0.013 0.005 0.004
137 0.016 0.004 0.006
137.5 0.020 0.006 0.003
138 0.028 0.005 0.005
138.5 0.036 0.003 0.004
139 0.046 0.006 0.006
139.5 0.060 0.004 0.003
140 0.078 0.007 0.005
140.5 0.100 0.005 0.004
141 0.125 0.003 0.006
141.5 0.150 0.006 0.004
142 0.138 0.004 0.005
142.5 0.118 0.007 0.003
143 0.112 0.005 0.006
143.5 0.092 0.004 0.004
144 0.070 0.006 0.005
144.5 0.056 0.005 0.007
145 0.046 0.007 0.004
145.5 0.040 0.004 0.006
146 0.034 0.006 0.005
146.5 0.030 0.005 0.007
147 0.026 0.008 0.004
147.5 0.023 0.005 0.006
148 0.021 0.007 0.005
148.5 0.019 0.009 0.003
149 0.020 0.006 0.002
149.5 0.017 0.008 0.001
150 0.018 0.006 0.000
150.5 0.016 0.008 0.004
151 0.017 0.007 0.006
151.5 0.015 0.009 0.005
152 0.016 0.008 0.007
152.5 0.014 0.010 0.006
153 0.015 0.009 0.008
153.5 0.014 0.011 0.007
154 0.016 0.010 0.006
154.5 0.014 0.012 0.008
155 0.015 0.011 0.007
155.5 0.013 0.013 0.009
156 0.014 0.012 0.008
156.5 0.012 0.014 0.007
157 0.013 0.013 0.009
157.5 0.011 0.016 0.008
158 0.012 0.015 0.010
158.5 0.010 0.018 0.009
159 0.012 0.017 0.011
159.5 0.011 0.020 0.010
160 0.013 0.022 0.012
160.5 0.011 0.025 0.015
161 0.012 0.028 0.018
161.5 0.010 0.034 0.020
162 0.011 0.038 0.024
162.5 0.009 0.036 0.026
163 0.011 0.042 0.030
163.5 0.010 0.045 0.033
164 0.012 0.048 0.036
164.5 0.009 0.052 0.038
165 0.010 0.055 0.040
165.5 0.008 0.060 0.042
166 0.011 0.052 0.038
166.5 0.009 0.048 0.044
167 0.010 0.055 0.048
167.5 0.008 0.062 0.052
168 0.011 0.067 0.050
168.5 0.009 0.055 0.045
169 0.010 0.045 0.038
169.5 0.008 0.040 0.034
170 0.011 0.038 0.030
170.5 0.009 0.035 0.028
171 0.010 0.032 0.026
171.5 0.008 0.028 0.024
172 0.011 0.026 0.022
172.5 0.010 0.024 0.021
173 0.009 0.022 0.020
173.5 0.011 0.025 0.018
174 0.008 0.024 0.016
174.5 0.010 0.020 0.018
175 0.011 0.018 0.017
175.5 0.009 0.017 0.016
176 0.010 0.016 0.015
176.5 0.008 0.015 0.014
177 0.011 0.014 0.013
177.5 0.009 0.015 0.012
178 0.010 0.013 0.012
178.5 0.008 0.014 0.011
179 0.011 0.012 0.011
179.5 0.009 0.013 0.010
180 0.010 0.011 0.010
}\tabD

\pgfplotsset{
  myax/.style={
    scale only axis,
    tick align=outside,
    xtick pos=bottom, ytick pos=left,
    axis line style={line width=1.3pt},
    major tick length=4pt, minor tick length=2.5pt,
    every tick/.style={black, line width=0.9pt},
    tick label style={font=\fontsize{16}{18}\selectfont},
    label style={font=\fontsize{16}{18}\selectfont},
    scaled y ticks=false,
    /pgf/number format/assume math mode=true,
    yticklabel style={/pgf/number format/.cd, fixed, fixed zerofill, precision=2},
    xticklabel style={/pgf/number format/.cd, fixed, precision=0, 1000 sep={}},
    legend cell align=left,
    ylabel={Oscillations amplitude (mV)},
    xlabel={IR laser pulse rate (kHz)},
  },
  dataline/.style={line width=1pt},
}

\begin{document}
\begin{tikzpicture}
\path[use as bounding box] (0,0) rectangle (525pt,1220pt);

% ---------- panel a ----------
\node[font=\calibri\bfseries\fontsize{30}{34}\selectfont] at (27pt,1202pt) {a)};
\begin{axis}[myax,
  at={(101pt,886pt)}, anchor=south west, width=404pt, height=299pt,
  xmin=37, xmax=443, ymin=0, ymax=0.06,
  xtick={50,100,150,200,250,300,350,400},
  minor xtick={75,125,175,225,275,325,375,425},
  ytick={0,0.01,0.02,0.03,0.04,0.05,0.06},
  minor y tick num=1,
  x label style={at={(axis description cs:0.5,-0.16)}, anchor=center},
  y label style={at={(axis description cs:-0.168,0.5)}, anchor=center},
  reverse legend,
  legend style={at={(0.025,0.973)}, anchor=north west, draw=gray!50,
    font=\fontsize{12}{14}\selectfont, row sep=4pt, inner sep=2pt},
  legend image code/.code={\draw[#1, line width=2pt] (0pt,0pt) -- (32pt,0pt);},
]
\addplot[dataline, darkR] table[x=x,y=d]{\tabA};
\addlegendentry{P=10}
\addplot[dataline, redC] table[x=x,y=c]{\tabA};
\addlegendentry{P=5.02}
\addplot[dataline, redB] table[x=x,y=b]{\tabA};
\addlegendentry{P=1.85}
\addplot[dataline, pinkA] table[x=x,y=a]{\tabA};
\addlegendentry{P=0.77}
\end{axis}

% ---------- panel b ----------
\node[font=\calibri\bfseries\fontsize{30}{34}\selectfont] at (27pt,778pt) {b)};
\begin{axis}[myax,
  at={(101pt,471pt)}, anchor=south west, width=404pt, height=298pt,
  xmin=37, xmax=443, ymin=0, ymax=0.10,
  xtick={50,100,150,200,250,300,350,400},
  minor xtick={75,125,175,225,275,325,375,425},
  ytick={0,0.02,0.04,0.06,0.08,0.10},
  minor y tick num=1,
  x label style={at={(axis description cs:0.5,-0.161)}, anchor=center},
  y label style={at={(axis description cs:-0.168,0.5)}, anchor=center},
  legend style={at={(0.017,0.987)}, anchor=north west, draw=gray!50,
    font=\fontsize{12}{14}\selectfont, row sep=4pt, inner sep=2pt},
  legend image code/.code={\draw[#1, line width=1.4pt] (0pt,0pt) -- (34pt,0pt);},
]
\addplot[dataline, purp, dash pattern=on 5pt off 3pt] table[x=x,y=on]{\tabB};
\addlegendentry{On fiber}
\addplot[dataline, darkR] table[x=x,y=out]{\tabB};
\addlegendentry{Outside fiber}
\end{axis}

% ---------- panel c ----------
\node[font=\calibri\bfseries\fontsize{30}{34}\selectfont] at (28pt,361pt) {c)};
\begin{axis}[myax,
  at={(101pt,54pt)}, anchor=south west, width=406pt, height=299pt,
  xmin=18, xmax=1000, ymin=0, ymax=0.20,
  xtick={200,400,600,800,1000},
  minor xtick={100,300,500,700,900},
  ytick={0,0.02,0.04,0.06,0.08,0.10,0.12,0.14,0.16,0.18,0.20},
  minor y tick num=1,
  x label style={at={(axis description cs:0.5,-0.157)}, anchor=center},
  y label style={at={(axis description cs:-0.167,0.5)}, anchor=center},
  reverse legend,
  legend style={at={(0.015,0.997)}, anchor=north west, draw=gray!50,
    font=\fontsize{12}{14}\selectfont, row sep=7pt, inner sep=2pt},
  legend image code/.code={\draw[#1, line width=2pt] (0pt,0pt) -- (34pt,0pt);},
]
\addplot[dataline, darkR] table[x=x,y=r]{\tabC};
\addlegendentry{Si\textsubscript{3}N\textsubscript{4} film on Si}
\addplot[dataline, salm] table[x=x,y=s]{\tabC};
\addlegendentry{Free Si\textsubscript{3}N\textsubscript{4} film border}
\addplot[dataline, grn] table[x=x,y=g]{\tabC};
\addlegendentry{Free Si\textsubscript{3}N\textsubscript{4} film}
\end{axis}

% ---------- inset ----------
\begin{axis}[
  scale only axis,
  at={(305pt,207pt)}, anchor=south west, width=193pt, height=141pt,
  axis background/.style={fill=white},
  tick align=outside, xtick pos=bottom, ytick pos=left,
  axis line style={line width=0.6pt},
  major tick length=2pt, minor tick length=1.2pt,
  every tick/.style={black, line width=0.5pt},
  xmin=130, xmax=180, ymin=0, ymax=0.16,
  xtick={130,140,150,160,170,180},
  minor x tick num=1,
  ytick={0,0.02,0.04,0.06,0.08,0.10,0.12,0.14,0.16},
  minor y tick num=1,
  scaled y ticks=false,
  /pgf/number format/assume math mode=true,
  yticklabel style={/pgf/number format/.cd, fixed, fixed zerofill, precision=2},
  tick label style={font=\fontsize{6}{7}\selectfont, inner sep=1.5pt},
  label style={font=\fontsize{6}{7}\selectfont},
  xlabel={IR laser pulse rate (kHz)},
  ylabel={Oscillations amplitude (mV)},
  x label style={at={(axis description cs:0.5,-0.12)}, anchor=center},
  y label style={at={(axis description cs:-0.135,0.5)}, anchor=center},
]
\addplot[line width=0.6pt, grn] table[x=x,y=g]{\tabD};
\addplot[line width=0.6pt, salm] table[x=x,y=s]{\tabD};
\addplot[line width=0.6pt, darkR] table[x=x,y=r]{\tabD};
\end{axis}
\end{tikzpicture}
\end{document}
